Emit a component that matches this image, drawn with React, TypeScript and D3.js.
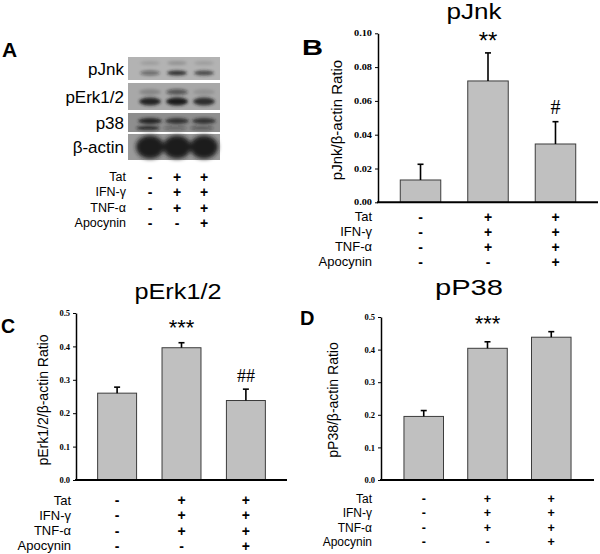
import { useEffect, useRef } from 'react';
import * as d3 from 'd3';

// Treatment groups (3 lanes / bars)
const groups = ['Control', 'Tat+IFN-γ+TNF-α', 'Tat+IFN-γ+TNF-α+Apocynin'];
const treatments = ['Tat', 'IFN-γ', 'TNF-α', 'Apocynin'];
const treatmentSigns = [
  ['-', '+', '+'],
  ['-', '+', '+'],
  ['-', '+', '+'],
  ['-', '-', '+'],
];

// Western blot (panel A): relative band darkness per lane
const blotRows = ['pJnk', 'pErk1/2', 'p38', 'β-actin'];
const bandMain = [
  [0.45, 0.85, 0.7],
  [0.9, 1.0, 0.85],
  [0.9, 0.8, 0.8],
  [1.0, 1.0, 1.0],
];
const bandMinor = [
  [0.12, 0.18, 0.12],
  [0.2, 0.55, 0.12],
  [0.85, 0.35, 0.45],
  [0, 0, 0],
];

// Densitometry (panels B-D)
const pJnkMean = [0.0132, 0.0718, 0.0345];
const pJnkSem = [0.0093, 0.0166, 0.0132];
const pJnkSig = ['', '**', '#'];
const pJnkTicks = [0, 0.02, 0.04, 0.06, 0.08, 0.1];

const pErkMean = [0.26, 0.396, 0.238];
const pErkSem = [0.018, 0.015, 0.034];
const pErkSig = ['', '***', '##'];

const pP38Mean = [0.195, 0.404, 0.438];
const pP38Sem = [0.018, 0.02, 0.017];
const pP38Sig = ['', '***', ''];

const ratioTicks = [0, 0.1, 0.2, 0.3, 0.4, 0.5];

const SANS = '"Liberation Sans", Arial, sans-serif';
const SERIF = '"Liberation Serif", "Times New Roman", serif';

interface PanelProps {
  letter: string;
  title: string;
  yLabel: string;
  mean: number[];
  sem: number[];
  sig: string[];
  ticks: number[];
  tickFormat: string;
  yMax: number;
  layout: {
    left: number; right: number; top: number; bottom: number;
    padIn: number; padOut: number;
    tickFont: number; tickLen?: number;
    titleX: number; titleY: number; titleFont: number; titleLen: number;
    letterX: number; letterY: number; letterFont: number; letterLen?: number;
    yLabelX: number; yLabelY: number; yLabelFont: number;
    labelRight: number; rowTop: number; rowStep: number; rowFont: number; signFont: number;
    sigFont: number; sigGap: number[];
  };
}

function BarPanel({ letter, title, yLabel, mean, sem, sig, ticks, tickFormat, yMax, layout: L }: PanelProps) {
  const ref = useRef<SVGGElement>(null);

  useEffect(() => {
    if (!ref.current) return;
    const g = d3.select(ref.current);
    g.selectAll('*').remove();

    const x = d3.scaleBand<number>()
      .domain(d3.range(mean.length))
      .range([L.left, L.right])
      .paddingInner(L.padIn)
      .paddingOuter(L.padOut);
    const y = d3.scaleLinear().domain([0, yMax]).range([L.bottom, L.top]);
    const cx = (i: number) => (x(i) || 0) + x.bandwidth() / 2;

    // bars
    g.append('g').selectAll('rect')
      .data(mean)
      .join('rect')
      .attr('x', (_, i) => x(i) || 0)
      .attr('y', d => y(d))
      .attr('width', x.bandwidth())
      .attr('height', d => L.bottom - y(d))
      .attr('fill', '#c0c0c0')
      .attr('stroke', '#3c3c3c')
      .attr('stroke-width', 1);

    // error bars (upper only)
    const err = g.append('g').selectAll('g')
      .data(mean)
      .join('g');
    err.append('line')
      .attr('x1', (_, i) => cx(i)).attr('x2', (_, i) => cx(i))
      .attr('y1', d => y(d)).attr('y2', (d, i) => y(d + sem[i]))
      .attr('stroke', '#000').attr('stroke-width', 1.6);
    err.append('line')
      .attr('x1', (_, i) => cx(i) - 3).attr('x2', (_, i) => cx(i) + 3)
      .attr('y1', (d, i) => y(d + sem[i])).attr('y2', (d, i) => y(d + sem[i]))
      .attr('stroke', '#000').attr('stroke-width', 1.6);

    // significance marks
    g.append('g').selectAll('text')
      .data(sig)
      .join('text')
      .attr('x', (_, i) => cx(i))
      .attr('y', (_, i) => y(mean[i] + sem[i]) - L.sigGap[i])
      .attr('text-anchor', 'middle')
      .attr('font-family', d => (d.startsWith('#') ? SERIF : SANS))
      .attr('font-size', d => (d.startsWith('#') ? L.sigFont - 4 : L.sigFont))
      .attr('fill', '#000')
      .text(d => d);

    // y axis
    const axis = g.append('g')
      .attr('transform', `translate(${L.left},0)`)
      .call(d3.axisLeft(y).tickValues(ticks).tickFormat(d3.format(tickFormat) as any).tickSize(3).tickSizeOuter(0).tickPadding(3));
    axis.select('.domain').attr('stroke', '#000').attr('stroke-width', 1.5);
    axis.selectAll('.tick line').attr('stroke', '#000');
    const tt = axis.selectAll('.tick text')
      .attr('font-family', SERIF)
      .attr('font-weight', 'bold')
      .attr('font-size', L.tickFont)
      .attr('fill', '#000');
    if (L.tickLen) tt.attr('textLength', L.tickLen).attr('lengthAdjust', 'spacingAndGlyphs');

    // x axis line
    g.append('line')
      .attr('x1', L.left - 1).attr('x2', L.right)
      .attr('y1', L.bottom).attr('y2', L.bottom)
      .attr('stroke', '#000').attr('stroke-width', 2);

    // treatment table under the bars
    const rows = g.append('g').selectAll('g')
      .data(treatments)
      .join('g')
      .attr('transform', (_, r) => `translate(0,${L.rowTop + r * L.rowStep})`);
    rows.append('text')
      .attr('x', L.labelRight)
      .attr('text-anchor', 'end')
      .attr('dominant-baseline', 'central')
      .attr('font-family', SANS)
      .attr('font-size', L.rowFont)
      .text(d => d);
    rows.each(function (_, r) {
      d3.select(this).selectAll('text.sign')
        .data(treatmentSigns[r])
        .join('text')
        .attr('class', 'sign')
        .attr('x', (_, i) => cx(i))
        .attr('text-anchor', 'middle')
        .attr('dominant-baseline', 'central')
        .attr('font-family', SANS)
        .attr('font-weight', 'bold')
        .attr('font-size', L.signFont)
        .text(s => s);
    });
  }, [mean, sem, sig, ticks, tickFormat, yMax, L]);

  return (
    <g>
      <text x={L.letterX} y={L.letterY} fontFamily={SANS} fontWeight="bold" fontSize={L.letterFont}
        textLength={L.letterLen} lengthAdjust="spacingAndGlyphs">{letter}</text>
      <text x={L.titleX} y={L.titleY} fontFamily={SANS} fontSize={L.titleFont} textAnchor="middle"
        textLength={L.titleLen} lengthAdjust="spacingAndGlyphs">{title}</text>
      <text transform={`translate(${L.yLabelX},${L.yLabelY}) rotate(-90)`} textAnchor="middle"
        dominantBaseline="central" fontFamily={SANS} fontSize={L.yLabelFont}>{yLabel}</text>
      <g ref={ref} />
    </g>
  );
}

function BlotPanel() {
  const lane = d3.scalePoint<number>().domain(d3.range(groups.length)).range([150, 204]);
  const boxes = [
    { y0: 57, y1: 80, bg: '#b3b3b3', main: 73, minor: 63, rx: 10, ry: 2.6, mry: 2 },
    { y0: 83, y1: 110, bg: '#a8a8a8', main: 101.5, minor: 92, rx: 11, ry: 4, mry: 3 },
    { y0: 113, y1: 132, bg: '#8e8e8e', main: 121, minor: 128, rx: 12, ry: 3, mry: 2 },
    { y0: 134, y1: 160, bg: '#9a9a9a', main: 147, minor: 147, rx: 14, ry: 11.5, mry: 0 },
  ];
  const labelY = [69, 97, 123, 147];
  return (
    <g>
      <defs>
        <filter id="blur" x="-50%" y="-50%" width="200%" height="200%">
          <feGaussianBlur stdDeviation="1.4" />
        </filter>
        <filter id="blur2" x="-50%" y="-50%" width="200%" height="200%">
          <feGaussianBlur stdDeviation="2.2" />
        </filter>
      </defs>
      <text x={2} y={57} fontFamily={SANS} fontWeight="bold" fontSize={21}>A</text>
      {blotRows.map((name, r) => {
        const b = boxes[r];
        return (
          <g key={name}>
            <rect x={128} y={b.y0} width={92} height={b.y1 - b.y0} fill={b.bg} />
            <g filter={r === 3 ? 'url(#blur2)' : 'url(#blur)'}>
              {bandMinor[r].map((v, i) => v > 0 && (
                <ellipse key={'m' + i} cx={(lane(i) || 0) + (r === 2 ? -2 : 0)} cy={b.minor}
                  rx={b.rx} ry={b.mry} fill="#141414" opacity={v} />
              ))}
              {bandMain[r].map((v, i) => (
                <ellipse key={'b' + i} cx={lane(i) || 0} cy={b.main}
                  rx={b.rx} ry={b.ry} fill={r === 3 ? '#1c1c1c' : '#1a1a1a'} opacity={v} />
              ))}
            </g>
            <text x={124} y={labelY[r]} textAnchor="end" dominantBaseline="central"
              fontFamily={SANS} fontSize={17}>{name}</text>
          </g>
        );
      })}
      {treatments.map((t, r) => (
        <g key={t} transform={`translate(0,${177 + r * 15.3})`}>
          <text x={126} textAnchor="end" dominantBaseline="central" fontFamily={SANS} fontSize={12.5}>{t}</text>
          {treatmentSigns[r].map((s, i) => (
            <text key={i} x={lane(i) || 0} textAnchor="middle" dominantBaseline="central"
              fontFamily={SANS} fontWeight="bold" fontSize={14}>{s}</text>
          ))}
        </g>
      ))}
    </g>
  );
}

const layoutB = {
  left: 378, right: 598, top: 33.3, bottom: 202.3, padIn: 0.4, padOut: 0.33,
  tickFont: 8, tickLen: 18,
  titleX: 474, titleY: 19, titleFont: 22, titleLen: 55,
  letterX: 302, letterY: 55, letterFont: 22, letterLen: 21,
  yLabelX: 336, yLabelY: 120, yLabelFont: 15,
  labelRight: 372, rowTop: 216.7, rowStep: 15, rowFont: 13, signFont: 14,
  sigFont: 24, sigGap: [0, 4, 8],
};
const layoutC = {
  left: 76, right: 287, top: 313, bottom: 480, padIn: 0.395, padOut: 0.336,
  tickFont: 8.5,
  titleX: 178, titleY: 299, titleFont: 22, titleLen: 87,
  letterX: 1, letterY: 333, letterFont: 19.5,
  yLabelX: 43, yLabelY: 400, yLabelFont: 14,
  labelRight: 71, rowTop: 500, rowStep: 15.3, rowFont: 13, signFont: 14,
  sigFont: 22, sigGap: [0, 8, 7],
};
const layoutD = {
  left: 381, right: 594, top: 317, bottom: 480, padIn: 0.38, padOut: 0.36,
  tickFont: 8.5,
  titleX: 469, titleY: 295, titleFont: 22, titleLen: 68,
  letterX: 300, letterY: 325, letterFont: 20,
  yLabelX: 333, yLabelY: 400, yLabelFont: 14,
  labelRight: 372, rowTop: 499.3, rowStep: 14.1, rowFont: 12, signFont: 12.5,
  sigFont: 22, sigGap: [0, 11, 0],
};

export default function App() {
  return (
    <svg width={600} height={554} viewBox="0 0 600 554"
      style={{ position: 'absolute', left: 0, top: 0, background: '#fff' }}>
      <BlotPanel />
      <BarPanel letter="B" title="pJnk" yLabel="pJnk/β-actin Ratio" mean={pJnkMean} sem={pJnkSem}
        sig={pJnkSig} ticks={pJnkTicks} tickFormat=".2f" yMax={0.1} layout={layoutB} />
      <BarPanel letter="C" title="pErk1/2" yLabel="pErk1/2/β-actin Ratio" mean={pErkMean} sem={pErkSem}
        sig={pErkSig} ticks={ratioTicks} tickFormat=".1f" yMax={0.5} layout={layoutC} />
      <BarPanel letter="D" title="pP38" yLabel="pP38/β-actin Ratio" mean={pP38Mean} sem={pP38Sem}
        sig={pP38Sig} ticks={ratioTicks} tickFormat=".1f" yMax={0.5} layout={layoutD} />
    </svg>
  );
}
